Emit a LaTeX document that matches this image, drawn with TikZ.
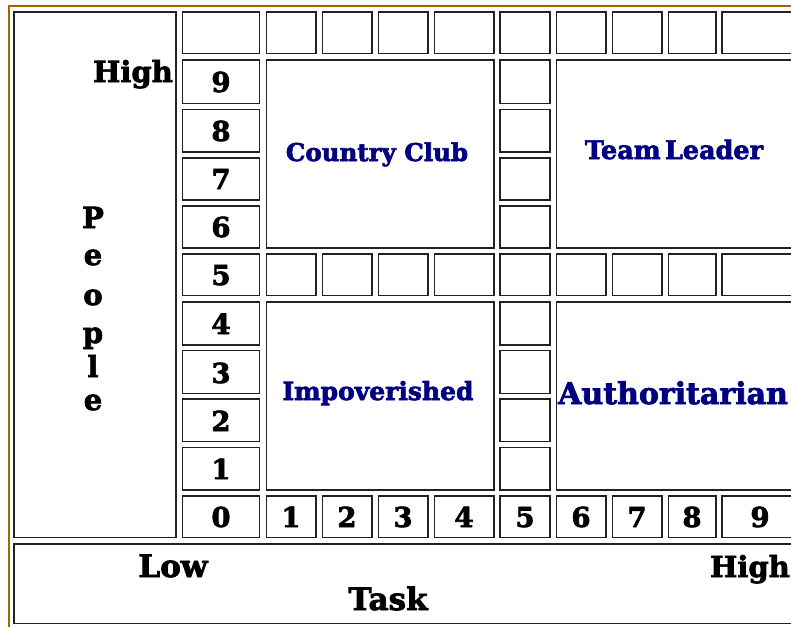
\documentclass[tikz,border=0pt]{standalone}
\usepackage{fontspec}
\setmainfont{DejaVu Serif}[BoldFeatures={FakeBold=2.5}]
\definecolor{gold}{RGB}{158,104,0}
\definecolor{cellline}{RGB}{34,34,34}
\definecolor{quad}{RGB}{0,0,128}
\tikzset{
  cell/.style={draw=cellline, line width=1.7pt},
  lab/.style={font=\bfseries\fontsize{29}{29}\selectfont, anchor=base, inner sep=0pt},
  dig/.style={font=\bfseries\fontsize{27.5}{27.5}\selectfont, anchor=base, inner sep=0pt},
  quadlab/.style={text=quad, anchor=base, inner sep=0pt},
}
\begin{document}
\begin{tikzpicture}[x=1pt,y=-1pt]
\useasboundingbox (0,0) rectangle (791,626);
\begin{scope}
\clip (0,0) rectangle (791,626);
% gold outer border
\draw[gold, line width=2pt] (8.5,640) -- (8.5,6.5) -- (800,6.5);
% people box and bottom box
\draw[cell] (14,12) rectangle (176,537.5);
\draw[cell] (14,544) rectangle (810,623.5);
% full rows: top, 5, 0
\foreach \ya/\yb in {12/53.5, 254/295.5, 496/537.5}{
  \foreach \xa/\xb in {182.5/259.5, 266.5/316, 322.5/372, 378.5/428, 434.5/494, 500/550, 556.5/606, 612.5/662, 668.5/716, 722/820}{
    \draw[cell] (\xa,\ya) rectangle (\xb,\yb);
  }
}
% label column and column 5 cells for other rows
\foreach \ya/\yb in {60/103.5, 109.5/152, 158/200, 206/248, 302/345, 350.5/393.5, 399/441.5, 447.5/490}{
  \draw[cell] (182.5,\ya) rectangle (259.5,\yb);
  \draw[cell] (500,\ya) rectangle (550,\yb);
}
% quadrant boxes
\draw[cell] (266.5,60) rectangle (494,248);
\draw[cell] (556.5,60) rectangle (820,248);
\draw[cell] (266.5,302) rectangle (494,490);
\draw[cell] (556.5,302) rectangle (820,490);
\end{scope}
% row digits
\foreach \d/\yb in {9/92, 8/141, 7/189, 6/237, 5/285, 4/334, 3/383, 2/431, 1/479, 0/527}{
  \node[dig] (r\d) at (221,\yb) {\d};
}
% column digits
\foreach \d/\x in {1/291, 2/347, 3/403, 4/464, 5/525, 6/581, 7/637, 8/692, 9/760}{
  \node[dig] (c\d) at (\x,527) {\d};
}
% labels
\node[lab, anchor=base east] (highp) at (173,82) {High};
\foreach \l/\yb [count=\i] in {P/228, e/265, o/305, p/343, l/377, e/410}{
  \node[lab] (pl\i) at (93,\yb) {\l};
}
\node[lab, font=\bfseries\fontsize{31}{31}\selectfont] (low) at (173,577) {Low};
\node[lab, font=\bfseries\fontsize{31}{31}\selectfont] (task) at (388,610) {Task};
\node[lab, anchor=base east] (hight) at (790,577) {High};
% quadrant labels
\node[quadlab, font=\bfseries\fontsize{24.5}{24.5}\selectfont] (cc) at (377,161) {Country Club};
\node[quadlab, font=\bfseries\fontsize{25.5}{25.5}\selectfont] (tl) at (674,159) {Team\,Leader};
\node[quadlab, font=\bfseries\fontsize{25}{25}\selectfont] (imp) at (378,400) {Impoverished};
\node[quadlab, font=\bfseries\fontsize{30}{30}\selectfont] (auth) at (673,404) {Authoritarian};
\end{tikzpicture}
\end{document}
